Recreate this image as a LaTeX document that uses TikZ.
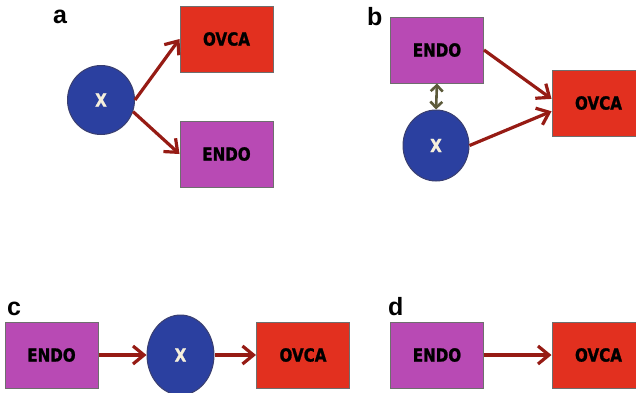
\documentclass[tikz,border=0pt]{standalone}
\usepackage{fontspec}
\setmainfont{DejaVu Sans}
\newfontfamily\panelfont{Liberation Sans}
\newfontfamily\boxfont[FakeStretch=0.84,FakeBold=1.2]{DejaVu Sans Bold}
\usetikzlibrary{arrows.meta,shapes.geometric}
\definecolor{ovcared}{HTML}{E2301F}
\definecolor{endomag}{HTML}{B84AB4}
\definecolor{xblue}{HTML}{2B40A0}
\definecolor{xedge}{HTML}{3A3F70}
\definecolor{xtext}{HTML}{F6F0DC}
\definecolor{boxgray}{HTML}{6E6E6E}
\definecolor{linkred}{HTML}{961B14}
\definecolor{olive}{HTML}{5C5A3A}
\begin{document}
\begin{tikzpicture}[x=1pt, y=-1pt,
    box/.style={draw=boxgray, line width=1pt, minimum width=93pt, minimum height=66pt,
      inner sep=0pt, font=\boxfont\fontsize{18}{18}\selectfont},
    ovca/.style={box, fill=ovcared},
    endo/.style={box, fill=endomag},
    xnode/.style={ellipse, draw=xedge, fill=xblue, line width=1pt, inner sep=0pt,
      text=xtext, font=\boxfont\fontsize{18}{18}\selectfont},
    link/.style={-{Straight Barb[length=11pt,width=18pt]}, line width=3.2pt, draw=linkred},
    mutual/.style={{Straight Barb[length=6pt,width=12pt]}-{Straight Barb[length=6pt,width=12pt]},
      line width=2.6pt, draw=olive},
    panel/.style={anchor=base west, inner sep=0pt, font=\panelfont\bfseries\fontsize{25}{25}\selectfont}]
    \useasboundingbox (0,0) rectangle (636,392);
    \clip (0,0) rectangle (636,392);

    % Panel a
    \node[panel] (laba) at (53,23) {a};
    \node[xnode, minimum width=67pt, minimum height=69pt] (xa) at (101,100) {X};
    \node[ovca] (ovcaa) at (226.5,39) {OVCA};
    \node[endo] (endoa) at (226.5,154) {ENDO};
    \draw[link] (xa.east) -- (ovcaa.west);
    \draw[link] (xa.-20) -- (endoa.west);

    % Panel b
    \node[panel] (labb) at (367,25) {b};
    \node[endo] (endob) at (437,50) {ENDO};
    \node[xnode, minimum width=66pt, minimum height=71pt] (xb) at (436,145.5) {X};
    \node[ovca] (ovcab) at (598.5,103) {OVCA};
    \draw[mutual] (endob.south) -- (xb.north);
    \draw[link] (endob.east) -- (ovcab.175);
    \draw[link] (xb.east) -- (ovcab.-170);

    % Panel c
    \node[panel] (labc) at (7,315) {c};
    \node[endo] (endoc) at (51.5,355) {ENDO};
    \node[xnode, minimum width=67pt, minimum height=80pt] (xc) at (180.5,355) {X};
    \node[ovca] (ovcac) at (303,355) {OVCA};
    \draw[link] (endoc.east) -- (xc.west);
    \draw[link] (xc.east) -- (ovcac.west);

    % Panel d
    \node[panel] (labd) at (388,315) {d};
    \node[endo] (endod) at (437,355) {ENDO};
    \node[ovca] (ovcad) at (598.5,355) {OVCA};
    \draw[link] (endod.east) -- (ovcad.west);
\end{tikzpicture}
\end{document}
